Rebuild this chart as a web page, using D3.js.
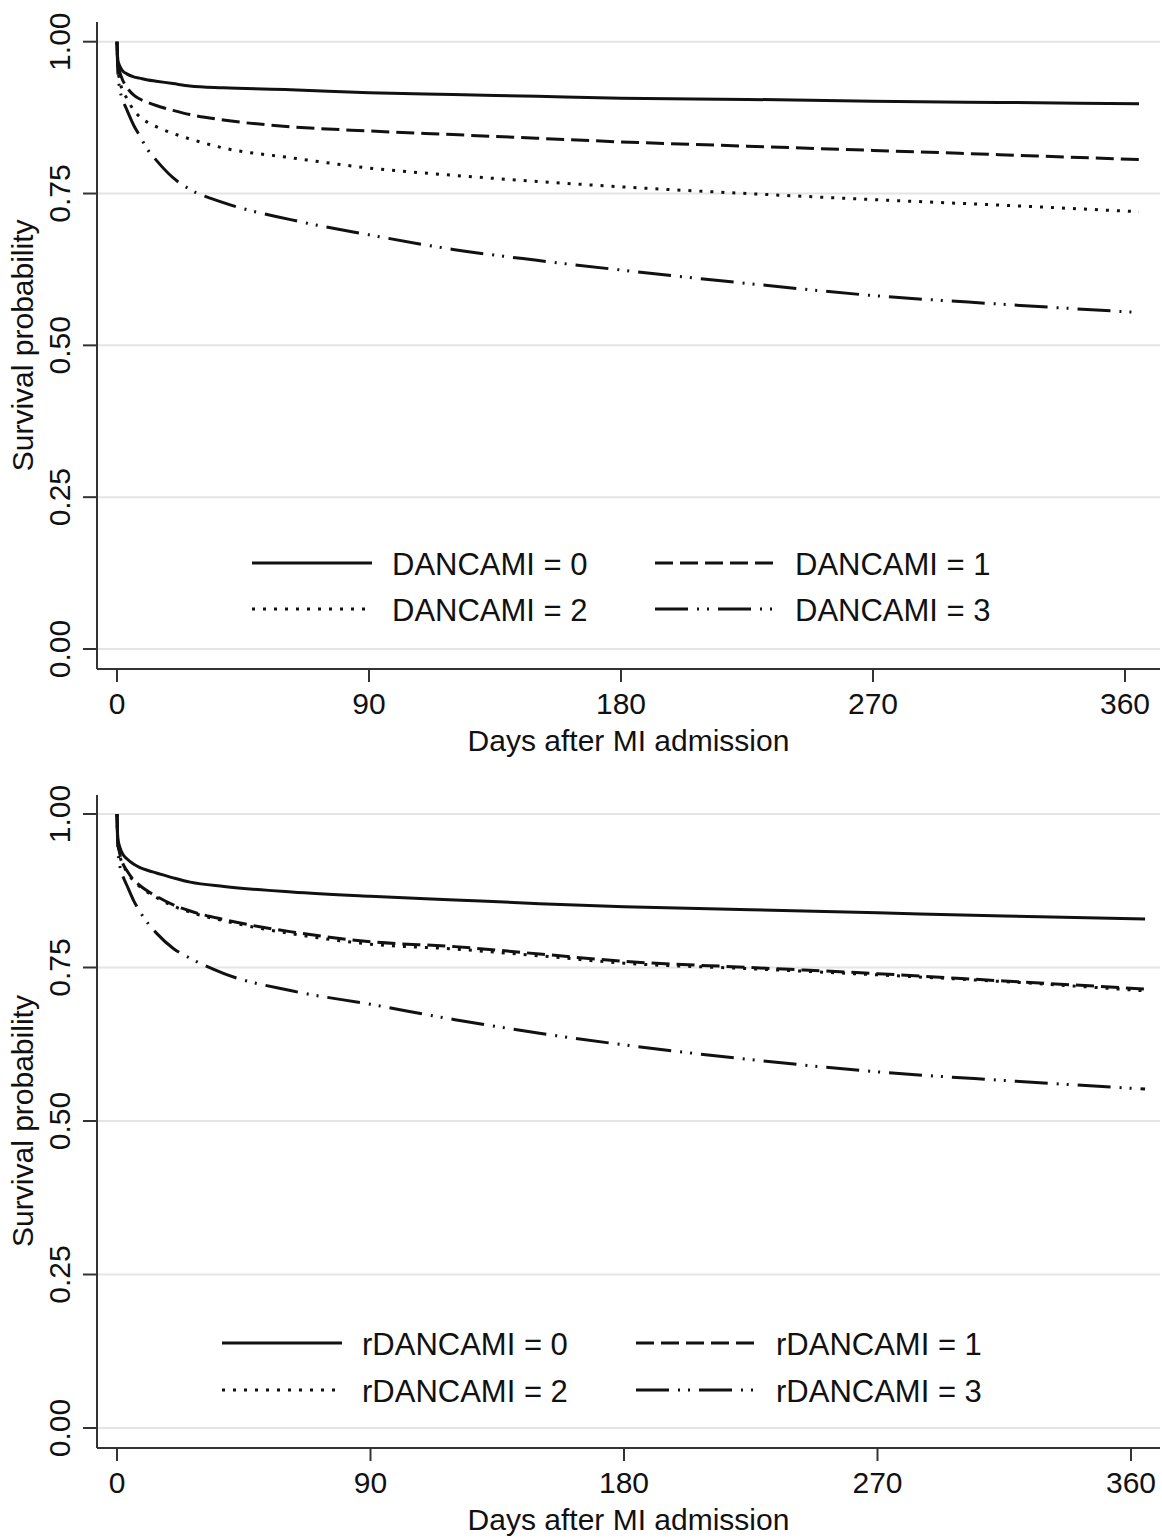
<!DOCTYPE html>
<html>
<head>
<meta charset="utf-8">
<script src="https://cdn.jsdelivr.net/npm/d3@7"></script>
<style>
	body { margin: 0; background: #fff; }
	text { font-family: 'Liberation Sans', Arial, Helvetica, sans-serif; fill: #111; }
</style>
</head>
<body>
<div id="chart"></div>
<script>
// days after admission at which the curves were read
const days = [0, 0.3, 1, 2, 3.5, 6, 8, 11, 14, 20, 26, 38, 62, 90, 120, 150, 180, 225, 270, 315, 365]

// top panel: DANCAMI
const dancami0 = [1.0, 0.970, 0.960, 0.952, 0.947, 0.942, 0.940, 0.937, 0.935, 0.931, 0.927, 0.924, 0.921, 0.916, 0.913, 0.910, 0.907, 0.905, 0.902, 0.900, 0.898]
const dancami1 = [1.0, 0.965, 0.950, 0.937, 0.925, 0.912, 0.906, 0.900, 0.895, 0.887, 0.880, 0.871, 0.860, 0.853, 0.847, 0.841, 0.835, 0.828, 0.821, 0.814, 0.806]
const dancami2 = [1.0, 0.960, 0.935, 0.920, 0.907, 0.887, 0.877, 0.867, 0.860, 0.849, 0.840, 0.825, 0.809, 0.792, 0.780, 0.770, 0.761, 0.750, 0.740, 0.731, 0.720]
const dancami3 = [1.0, 0.950, 0.922, 0.905, 0.888, 0.862, 0.846, 0.822, 0.805, 0.776, 0.757, 0.735, 0.707, 0.682, 0.658, 0.640, 0.624, 0.602, 0.582, 0.568, 0.554]

// bottom panel: rDANCAMI
const rdancami0 = [1.0, 0.960, 0.946, 0.935, 0.927, 0.918, 0.913, 0.908, 0.904, 0.896, 0.889, 0.882, 0.873, 0.866, 0.860, 0.854, 0.849, 0.844, 0.839, 0.834, 0.829]
const rdancami1 = [1.0, 0.955, 0.935, 0.920, 0.908, 0.892, 0.884, 0.874, 0.866, 0.852, 0.842, 0.828, 0.808, 0.792, 0.784, 0.772, 0.760, 0.750, 0.740, 0.728, 0.715]
const rdancami2 = [1.0, 0.955, 0.933, 0.918, 0.906, 0.890, 0.882, 0.872, 0.864, 0.850, 0.840, 0.826, 0.805, 0.788, 0.780, 0.769, 0.757, 0.748, 0.738, 0.727, 0.712]
const rdancami3 = [1.0, 0.945, 0.916, 0.900, 0.884, 0.858, 0.842, 0.822, 0.806, 0.781, 0.765, 0.740, 0.712, 0.690, 0.665, 0.643, 0.624, 0.600, 0.580, 0.566, 0.552]

const xTicks = [0, 90, 180, 270, 360]
const yTicks = [0, 0.25, 0.5, 0.75, 1]
const groupLevels = [0, 1, 2, 3]

const xTitle = 'Days after MI admission'
const yTitle = 'Survival probability'

// line styles per level
const dashes = [null, '18,7', '3,8', '33,9,2,8,2,9']

const fullWidth = 1162
const fullHeight = 1539

const svg = d3
	.select('#chart')
	.append('svg')
	.attr('width', fullWidth)
	.attr('height', fullHeight)

function drawPanel({series, name, top, xRange, yRange, legend}) {
	const g = svg.append('g')
	const axisLeft = 97
	const axisRight = 1160
	const axisBottom = top.axisBottom

	const x = d3.scaleLinear().domain([0, 360]).range(xRange)
	const y = d3.scaleLinear().domain([0, 1]).range(yRange)

	// gridlines
	g.selectAll('.grid')
		.data(yTicks)
		.enter()
		.append('line')
		.attr('x1', axisLeft)
		.attr('x2', axisRight)
		.attr('y1', (d) => y(d))
		.attr('y2', (d) => y(d))
		.attr('stroke', '#e4e4e4')
		.attr('stroke-width', 2)

	// y axis
	g.append('line')
		.attr('x1', axisLeft).attr('x2', axisLeft)
		.attr('y1', top.axisTop).attr('y2', axisBottom)
		.attr('stroke', '#333').attr('stroke-width', 2)
	g.selectAll('.ytick')
		.data(yTicks)
		.enter()
		.append('line')
		.attr('x1', axisLeft - 14).attr('x2', axisLeft)
		.attr('y1', (d) => y(d)).attr('y2', (d) => y(d))
		.attr('stroke', '#333').attr('stroke-width', 2)
	g.selectAll('.ylab')
		.data(yTicks)
		.enter()
		.append('text')
		.attr('transform', (d) => `translate(70, ${y(d)}) rotate(-90)`)
		.attr('text-anchor', 'middle')
		.attr('font-size', 30)
		.text((d) => d3.format('.2f')(d))
	g.append('text')
		.attr('transform', `translate(33, ${(yRange[0] + yRange[1]) / 2}) rotate(-90)`)
		.attr('text-anchor', 'middle')
		.attr('font-size', 30)
		.text(yTitle)

	// x axis
	g.append('line')
		.attr('x1', axisLeft).attr('x2', axisRight)
		.attr('y1', axisBottom).attr('y2', axisBottom)
		.attr('stroke', '#333').attr('stroke-width', 2)
	g.selectAll('.xtick')
		.data(xTicks)
		.enter()
		.append('line')
		.attr('x1', (d) => x(d)).attr('x2', (d) => x(d))
		.attr('y1', axisBottom).attr('y2', axisBottom + 13)
		.attr('stroke', '#333').attr('stroke-width', 2)
	g.selectAll('.xlab')
		.data(xTicks)
		.enter()
		.append('text')
		.attr('x', (d) => x(d))
		.attr('y', axisBottom + 45)
		.attr('text-anchor', 'middle')
		.attr('font-size', 30)
		.text((d) => d)
	g.append('text')
		.attr('x', (axisLeft + axisRight) / 2)
		.attr('y', axisBottom + 82)
		.attr('text-anchor', 'middle')
		.attr('font-size', 30)
		.text(xTitle)

	// curves
	const line = d3
		.line()
		.x((d) => x(d[0]))
		.y((d) => y(d[1]))
		.curve(d3.curveMonotoneX)
	series.forEach((values, i) => {
		g.append('path')
			.datum(days.map((day, j) => [day, values[j]]))
			.attr('d', line)
			.attr('fill', 'none')
			.attr('stroke', '#111')
			.attr('stroke-width', 3)
			.attr('stroke-dasharray', dashes[i])
	})

	// legend, two columns by two rows
	groupLevels.forEach((level, i) => {
		const col = i % 2
		const row = Math.floor(i / 2)
		const lx = legend.cols[col]
		const ly = legend.rows[row]
		g.append('line')
			.attr('x1', lx).attr('x2', lx + 120)
			.attr('y1', ly).attr('y2', ly)
			.attr('stroke', '#111')
			.attr('stroke-width', 3)
			.attr('stroke-dasharray', dashes[i])
		g.append('text')
			.attr('x', lx + legend.textGap)
			.attr('y', ly + 12)
			.attr('font-size', 31)
			.text(`${name} = ${level}`)
	})
}

drawPanel({
	series: [dancami0, dancami1, dancami2, dancami3],
	name: 'DANCAMI',
	top: {axisTop: 22, axisBottom: 669},
	xRange: [117, 1125],
	yRange: [649, 41.7],
	legend: {cols: [252, 655], rows: [563, 609], textGap: 140},
})

drawPanel({
	series: [rdancami0, rdancami1, rdancami2, rdancami3],
	name: 'rDANCAMI',
	top: {axisTop: 795, axisBottom: 1448},
	xRange: [117, 1131],
	yRange: [1428, 814],
	legend: {cols: [222, 636], rows: [1343, 1390], textGap: 140},
})
</script>
</body>
</html>
